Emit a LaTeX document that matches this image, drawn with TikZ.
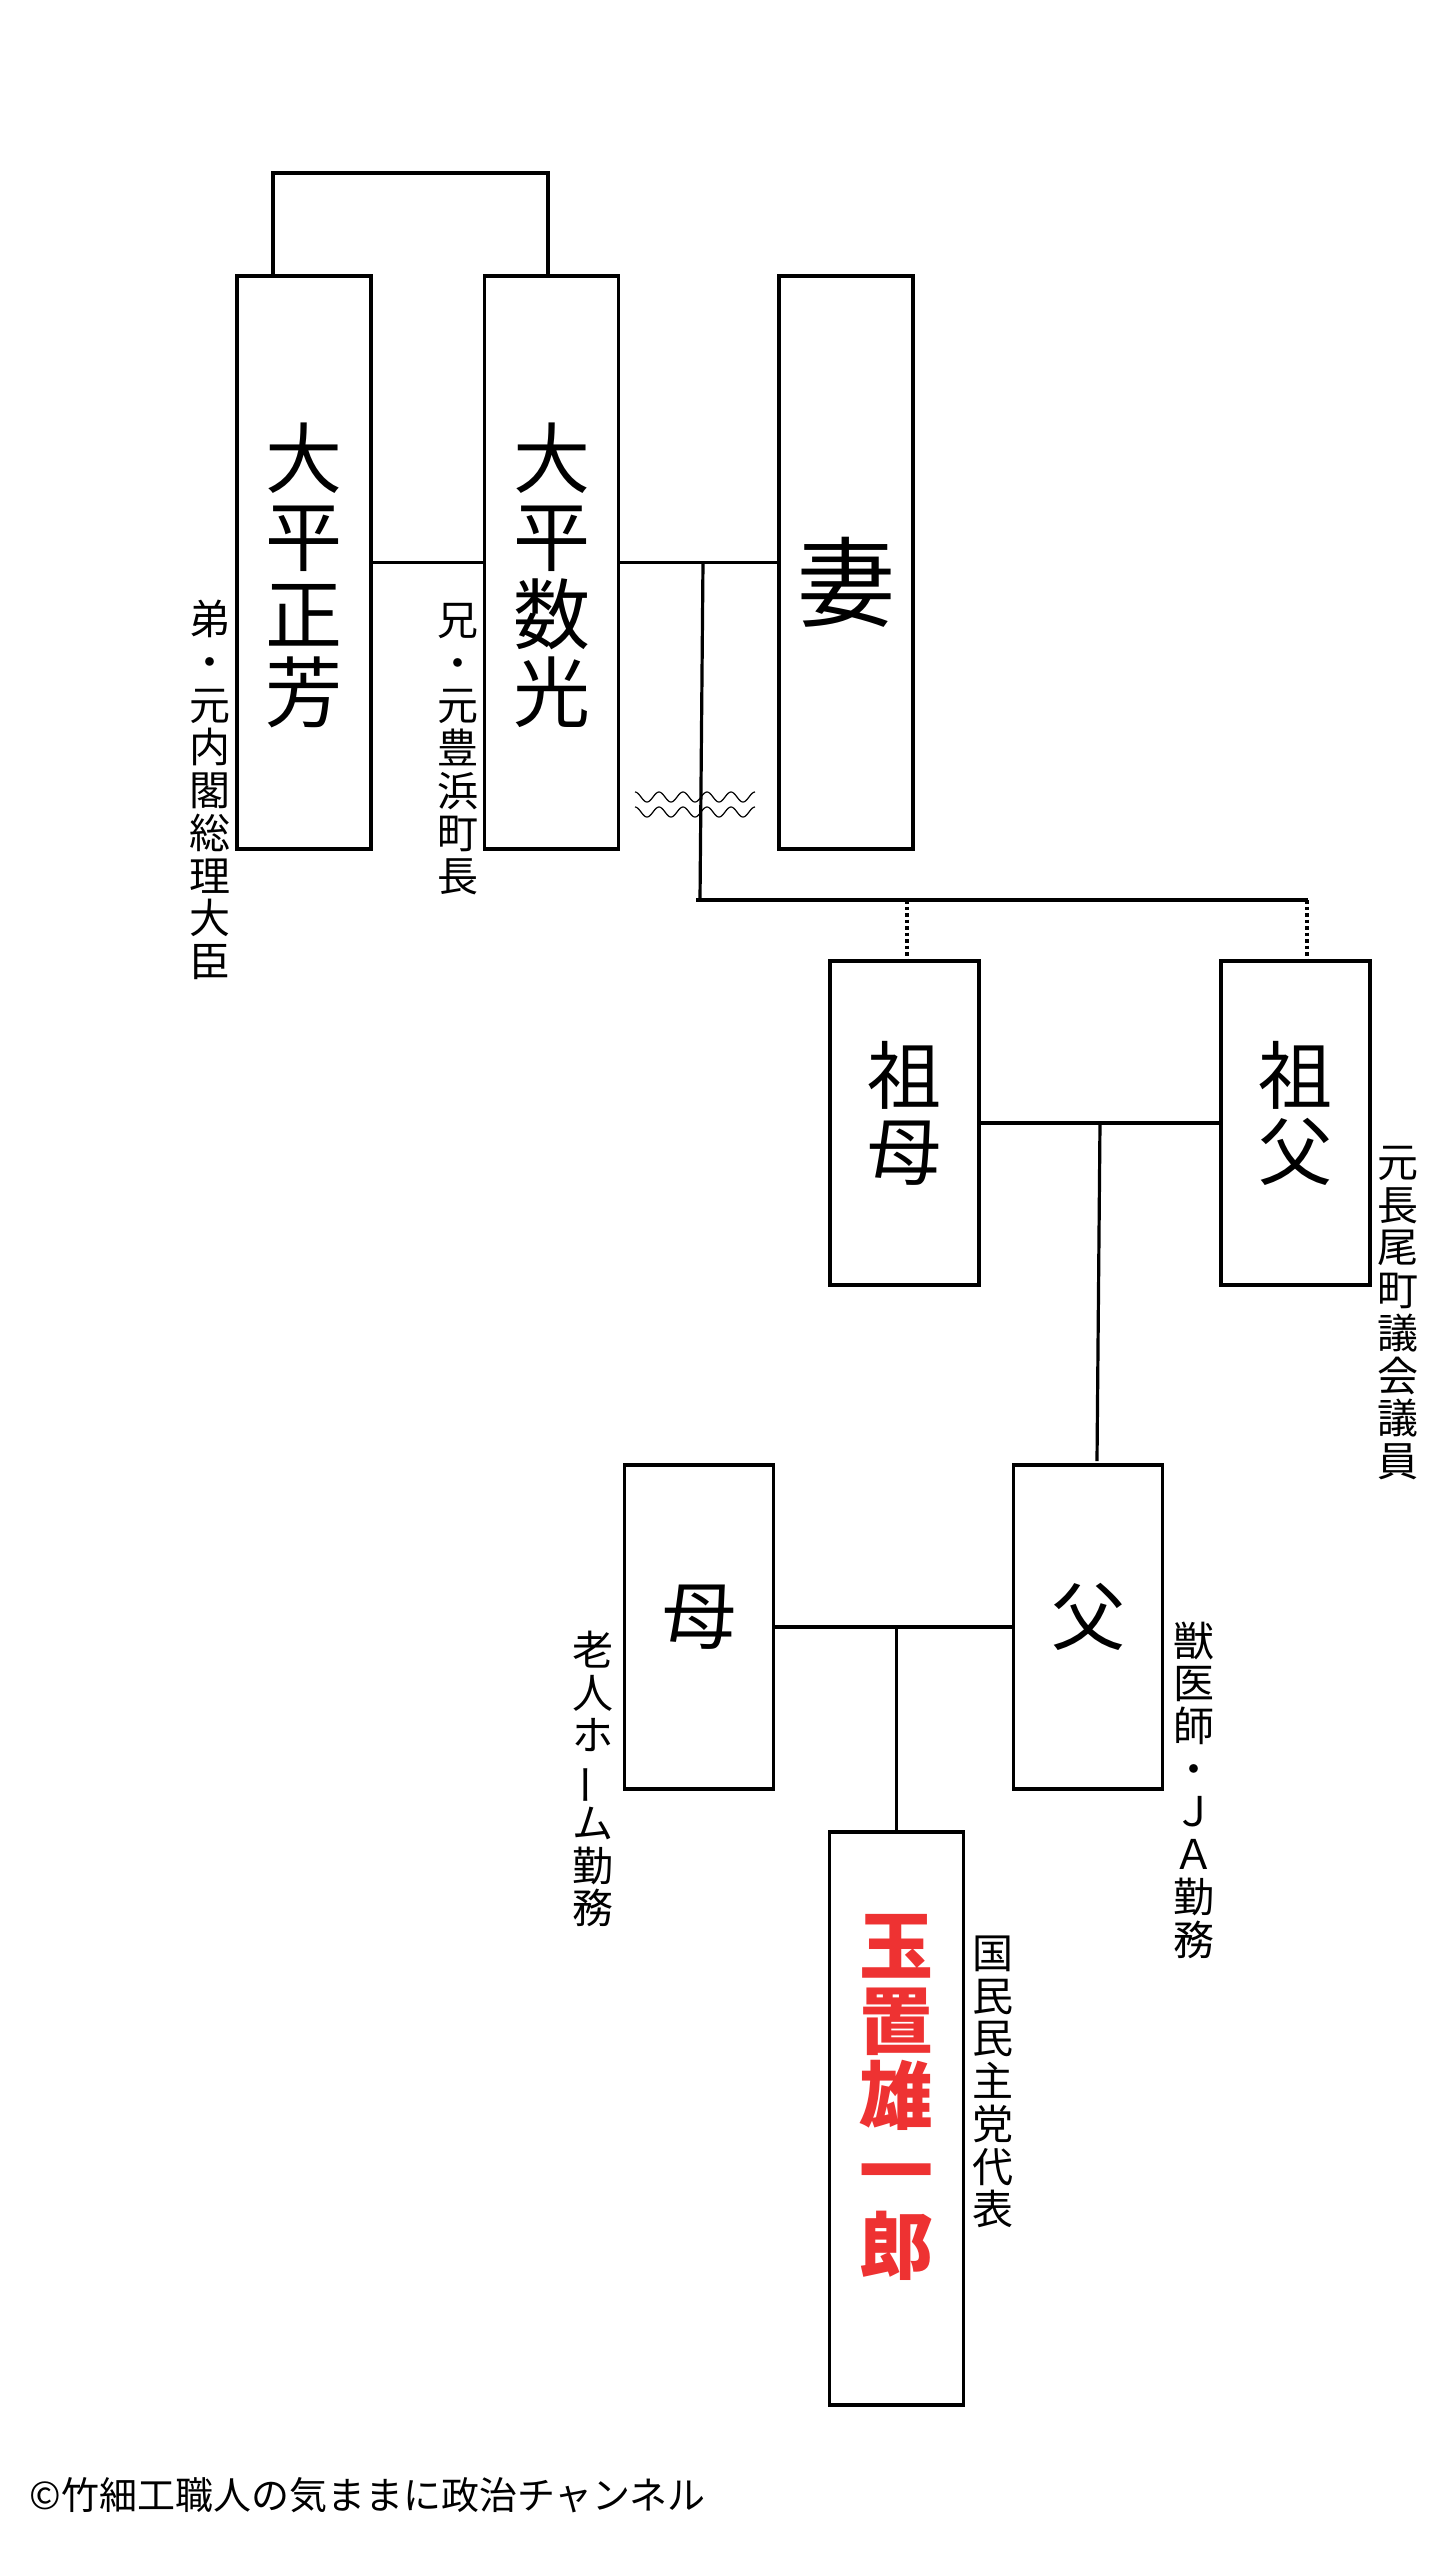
\documentclass[tikz,border=0pt]{standalone}
\usepackage{fontspec}
\usepackage{graphicx}
\newfontfamily\jp{Noto Sans CJK JP}
\definecolor{namered}{RGB}{238,50,50}
\tikzset{
  person/.style={draw, line width=1.6pt, inner sep=0pt, outer sep=0pt},
  tallbox/.style={person, minimum width=67pt, minimum height=286.5pt},
  shortbox/.style={person, minimum width=74.5pt, minimum height=162pt},
  nametext/.style={inner sep=0pt, align=center, font=\jp\fontsize{38.5}{39}\selectfont},
  note/.style={inner sep=0pt, align=center, font=\jp\fontsize{20.5}{21.35}\selectfont},
  conn/.style={line width=1.6pt},
  dotline/.style={line width=1.6pt, dash pattern=on 1.75pt off 1.5pt},
  wave/.style={line width=0.6pt}
}
\begin{document}
\begin{tikzpicture}[x=0.5pt,y=-0.5pt]
\useasboundingbox[fill=white] (0,0) rectangle (1440,2550);

% person boxes
\node[tallbox] (masa) at (304,562.5) {};
\node[tallbox] (kazu) at (551.5,562.5) {};
\node[tallbox] (tsuma) at (846,562.5) {};
\node[shortbox] (sobo) at (904.5,1123) {};
\node[shortbox] (sofu) at (1295.5,1123) {};
\node[shortbox] (haha) at (699,1627) {};
\node[shortbox] (chichi) at (1088,1627) {};
\node[tallbox] (tamaki) at (896.5,2118.5) {};

% names
\node[nametext] (masaT) at ([yshift=-6.5pt]masa.center) {大\\平\\正\\芳};
\node[nametext] (kazuT) at ([yshift=-6.5pt]kazu.center) {大\\平\\数\\光};
\node[nametext, font=\jp\fontsize{49}{50}\selectfont] (tsumaT) at ([yshift=-10pt]tsuma.center) {妻};
\node[nametext, font=\jp\fontsize{37}{38}\selectfont] (soboT) at ([yshift=5pt]sobo.center) {祖\\母};
\node[nametext, font=\jp\fontsize{37}{38}\selectfont] (sofuT) at ([yshift=5pt]sofu.center) {祖\\父};
\node[nametext, font=\jp\fontsize{37}{38}\selectfont] (hahaT) at ([yshift=5pt]haha.center) {母};
\node[nametext, font=\jp\fontsize{37}{38}\selectfont] (chichiT) at ([yshift=5pt]chichi.center) {父};
\node[nametext, text=namered, font=\jp\bfseries\fontsize{37}{37.5}\selectfont] (tamakiT) at ([yshift=10.5pt]tamaki.center) {玉\\置\\雄\\一\\郎};

% notes
\node[note] (n1) at (210,790) {弟\\・\\元\\内\\閣\\総\\理\\大\\臣};
\node[note] (n2) at (458,749) {兄\\・\\元\\豊\\浜\\町\\長};
\node[note] (n3) at (1398,1313) {元\\長\\尾\\町\\議\\会\\議\\員};
\node[note] (n4) at (593,1779) {老\\人\\ホ\\\rotatebox[origin=c]{90}{ー}\\ム\\勤\\務};
\node[note] (n5) at (1194,1790) {獣\\医\\師\\・\\Ｊ\\Ａ\\勤\\務};
\node[note] (n6) at (993,2082) {国\\民\\民\\主\\党\\代\\表};

% copyright
\node[inner sep=0pt, anchor=west, font=\jp\fontsize{19}{20}\selectfont] (copy) at (29,2495) {©竹細工職人の気ままに政治チャンネル};

% bracket between brothers
\coordinate (b1) at (273,173);
\coordinate (b2) at (548,173);
\draw[conn] (b1 |- masa.north) -- (b1) -- (b2) -- (b2 |- kazu.north);

% sibling / marriage lines
\draw[conn] (masa.east) -- (kazu.west);
\draw[conn] (kazu.east) -- (tsuma.west);
\coordinate (k1) at (703,562);
\coordinate (k2) at (700,900);
\draw[conn] (k1) -- (k2);
\coordinate (h1) at (696,900);
\coordinate (h2) at (1308,900);
\draw[conn] (h1) -- (h2);
\coordinate (d1) at (907,900);
\coordinate (d2) at (1307,900);
\draw[dotline] (d1) -- (d1 |- sobo.north);
\draw[dotline] (d2) -- (d2 |- sofu.north);

% wavy break marks
\draw[wave] plot[domain=635:755, samples=121, smooth] (\x, {797 - 5*cos((\x-635)*15)});
\draw[wave] plot[domain=635:755, samples=121, smooth] (\x, {812 - 5*cos((\x-635)*15)});

% grandparents to father
\draw[conn] (sobo.east) -- (sofu.west);
\coordinate (g1) at (1100,1123);
\coordinate (g2) at (1097,1461);
\draw[conn] (g1) -- (g2);

% parents to child
\draw[conn] (haha.east) -- (chichi.west);
\coordinate (p1) at (896.5,1626);
\draw[conn] (p1) -- (p1 |- tamaki.north);
\end{tikzpicture}
\end{document}
